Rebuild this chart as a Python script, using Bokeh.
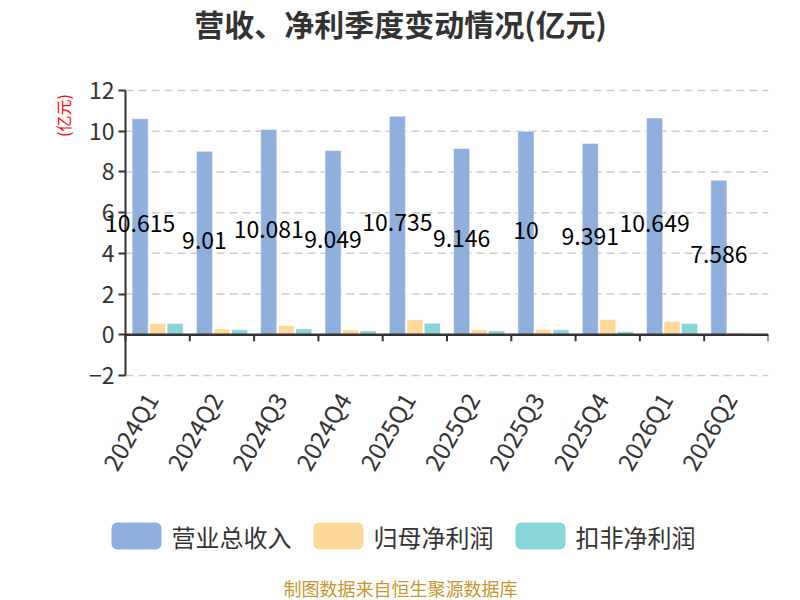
import math
from bokeh.plotting import figure
from bokeh.layouts import column
from bokeh.models import (Range1d, FixedTicker, ColumnDataSource, Label)
from bokeh.core.properties import value
from bokeh.embed import file_html
from bokeh.resources import INLINE

quarters = ["2024Q1", "2024Q2", "2024Q3", "2024Q4", "2025Q1", "2025Q2",
            "2025Q3", "2025Q4", "2026Q1", "2026Q2"]
revenue = [10.615, 9.01, 10.081, 9.049, 10.735, 9.146, 10, 9.391, 10.649, 7.586]
net_profit = [0.55, 0.29, 0.46, 0.245, 0.74, 0.245, 0.26, 0.75, 0.64, 0.11]
net_profit_deducted = [0.55, 0.245, 0.29, 0.2, 0.57, 0.2, 0.245, 0.16, 0.56, 0.0]
y_ticks = [-2, 0, 2, 4, 6, 8, 10, 12]
series_names = ["营业总收入", "归母净利润", "扣非净利润"]
colors = ["#8FAFDD", "#FFD99A", "#88D4D7"]

FONT = "Noto Sans CJK SC"
W = 800
H0, H1, H2 = 60, 450, 90
FRAME_L, AXIS_X, FRAME_R = 50, 125, 768   # page pixels
BORDER_R = W - FRAME_R
PAD = 16                                   # extra frame pixels above/below the axis span
n = len(quarters)
px_per_cat = (FRAME_R - AXIS_X) / n
y_lo, y_hi = min(y_ticks), max(y_ticks)
px_per_y = 285 / (y_hi - y_lo)


def blank(h):
    f = figure(width=W, height=h, output_backend="svg", toolbar_location=None,
               x_axis_type=None, y_axis_type=None,
               x_range=Range1d(FRAME_L, FRAME_R), y_range=Range1d(h, 0),
               min_border_left=FRAME_L, min_border_right=BORDER_R,
               min_border_top=0, min_border_bottom=0)
    f.outline_line_color = None
    f.grid.visible = False
    f.border_fill_color = "white"
    f.background_fill_color = "white"
    return f


# ---- header ----
head = blank(H0)
head.add_layout(Label(x=W / 2, y=22, text="营收、净利季度变动情况(亿元)", text_align="center",
                      text_baseline="middle", text_font=FONT, text_font_size="30px",
                      text_font_style="bold", text_color="#333333"))

# ---- main chart ----
x_start = -(AXIS_X - FRAME_L) / px_per_cat
pad_y = PAD / px_per_y
p = figure(width=W, height=H1, output_backend="svg", toolbar_location=None,
           x_range=Range1d(x_start, n), y_range=Range1d(y_lo - pad_y, y_hi + pad_y),
           min_border_left=FRAME_L, min_border_right=BORDER_R, min_border_top=30 - PAD,
           min_border_bottom=135 - PAD)
p.outline_line_color = None
p.background_fill_color = "white"
p.border_fill_color = "white"
p.grid.visible = False

centers = [i + 0.5 for i in range(n)]
src = ColumnDataSource(dict(
    x0=[c - 0.272 for c in centers],
    x1=[c for c in centers],
    x2=[c + 0.272 for c in centers],
    rev=revenue, np_=net_profit, npd=net_profit_deducted,
    half=[v / 2 for v in revenue],
    lab=[("%g" % v) for v in revenue],
))

# dashed horizontal grid from the y axis to the right edge
p.segment(x0=[0] * len(y_ticks), x1=[n] * len(y_ticks), y0=y_ticks, y1=y_ticks,
          line_color="#cccccc", line_width=1.5, line_dash="8 5")

for xcol, ycol, c in (("x0", "rev", colors[0]), ("x1", "np_", colors[1]), ("x2", "npd", colors[2])):
    p.vbar(x=xcol, top=ycol, width=0.25, source=src, fill_color=c,
           line_color="white", line_alpha=0.5, line_width=1)

# y axis line, zero axis line and category boundary ticks
p.segment(x0=[0], x1=[0], y0=[y_lo], y1=[y_hi], line_color="#333333", line_width=2)
p.segment(x0=[0], x1=[n], y0=[0], y1=[0], line_color="#333333", line_width=2.5)
bounds = list(range(n + 1))
p.segment(x0=bounds, x1=bounds, y0=[0] * len(bounds), y1=[-0.32] * len(bounds),
          line_color="#333333", line_width=2)

p.text(x="x0", y="half", text="lab", source=src, text_align="center",
       text_baseline="middle", y_offset=-3, text_font=value(FONT),
       text_font_size="23px", text_color="black")

ya = p.yaxis[0]
ya.fixed_location = 0
ya.ticker = FixedTicker(ticks=y_ticks)
ya.axis_line_color = None
ya.major_tick_line_color = "#333333"
ya.major_tick_line_width = 2
ya.major_tick_in = 0
ya.major_tick_out = 7
ya.minor_tick_line_color = None
ya.major_label_text_font = FONT
ya.major_label_text_font_size = "23px"
ya.major_label_text_color = "#333333"
ya.major_label_standoff = 4

label_shift = 7 / px_per_cat
label_pos = [c - label_shift for c in centers]
xa = p.xaxis[0]
xa.ticker = FixedTicker(ticks=label_pos)
xa.major_label_overrides = {c: q for c, q in zip(label_pos, quarters)}
xa.axis_line_color = None
xa.major_tick_line_color = None
xa.minor_tick_line_color = None
xa.major_label_orientation = math.pi / 3
xa.major_label_text_font = FONT
xa.major_label_text_font_size = "24px"
xa.major_label_text_color = "#333333"
xa.major_label_standoff = 13 - PAD

# unit label, rotated, left of the tick labels near the top
p.add_layout(Label(x=(62 - AXIS_X) / px_per_cat, y=y_hi - 25 / px_per_y, text="(亿元)",
                   angle=math.pi / 2, text_align="center", text_baseline="middle",
                   text_font=FONT, text_font_size="16px", text_color="red"))

# ---- legend + footer ----
foot = blank(H2)
lx = [111, 313, 515]
box_w, box_top, box_bot = 50, 12, 39
foot.quad(left=lx, right=[x + box_w for x in lx], top=[box_top] * 3, bottom=[box_bot] * 3,
          fill_color=colors, line_color=None, border_radius=6)
foot.text(x=[x + box_w + 10 for x in lx], y=[(box_top + box_bot) / 2] * 3, text=series_names,
          text_align="left", text_baseline="middle", text_font=value(FONT),
          text_font_size="24px", text_color="#333333")
foot.add_layout(Label(x=W / 2, y=77, text="制图数据来自恒生聚源数据库", text_align="center",
                      text_baseline="middle", text_font=FONT, text_font_size="18px",
                      text_color="#C8962E"))

layout = column(head, p, foot, spacing=0)
open("out.html", "w").write(file_html(layout, INLINE))
